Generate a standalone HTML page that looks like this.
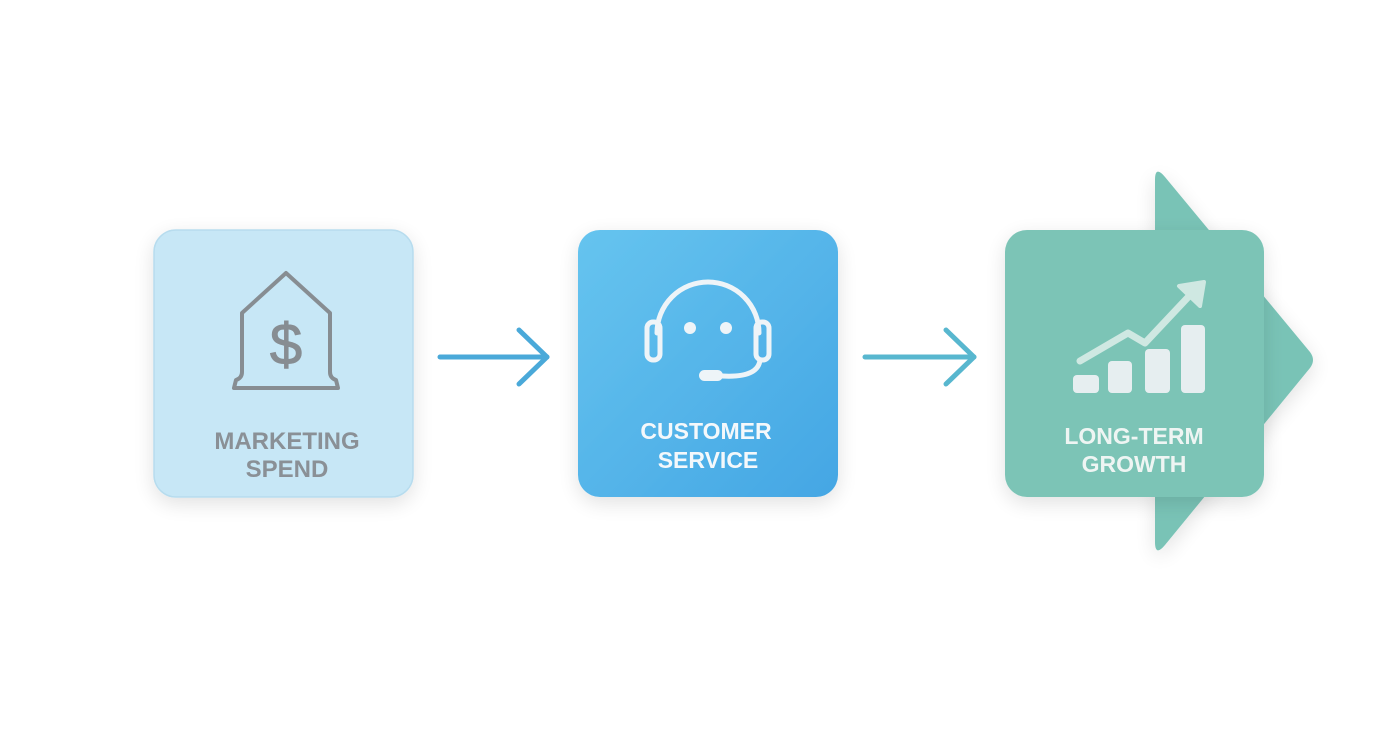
<!DOCTYPE html>
<html><head><meta charset="utf-8"><style>
html,body{margin:0;padding:0;background:#fff;}
svg{display:block}
text{font-family:"Liberation Sans",sans-serif;font-weight:bold;text-anchor:middle}
</style></head><body>
<svg width="1392" height="752" viewBox="0 0 1392 752" xmlns="http://www.w3.org/2000/svg">
<defs>
<linearGradient id="g2" x1="0" y1="0" x2="1" y2="1">
<stop offset="0" stop-color="#66c4ef"/><stop offset="1" stop-color="#44a6e4"/>
</linearGradient>
<filter id="sh" x="-30%" y="-30%" width="160%" height="160%">
<feGaussianBlur in="SourceAlpha" stdDeviation="10"/><feOffset dy="6"/>
<feComponentTransfer><feFuncA type="linear" slope="0.12"/></feComponentTransfer>
<feMerge><feMergeNode/><feMergeNode in="SourceGraphic"/></feMerge>
</filter>
</defs>
<rect x="154" y="230" width="259" height="267" rx="22" fill="#c7e7f6" stroke="#b7dcee" stroke-width="1.5" filter="url(#sh)"/>
<path d="M286 273 L242 313 L242 372 Q242 378 236 380 L234 388 L338 388 L336 380 Q330 378 330 372 L330 313 Z" fill="none" stroke="#878d92" stroke-width="4" stroke-linejoin="round"/>
<text x="286" y="364" font-size="58" fill="#878d92" stroke="#878d92" stroke-width="1" style="font-weight:normal">$</text>
<text x="287" y="449" font-size="24" fill="#8a9096">MARKETING</text>
<text x="287" y="477" font-size="24" fill="#8a9096">SPEND</text>
<g stroke="#4aa9d9" stroke-width="5" stroke-linecap="round" fill="none" stroke-linejoin="round">
<line x1="440" y1="357" x2="547" y2="357"/><polyline points="519,330 547,357 519,384"/>
</g>
<rect x="578" y="230" width="260" height="267" rx="22" fill="url(#g2)" filter="url(#sh)"/>
<g stroke="#eef4f8" stroke-width="5" fill="none" stroke-linecap="round">
<path d="M657 333 A51 51 0 0 1 759 333"/>
<rect x="647" y="322" width="13" height="38" rx="6"/>
<rect x="756" y="322" width="13" height="38" rx="6"/>
<path d="M760 360 Q758 378 722 376"/>
</g>
<rect x="699" y="370" width="24" height="11" rx="5.5" fill="#eef4f8"/>
<circle cx="690" cy="328" r="6" fill="#eef4f8"/><circle cx="726" cy="328" r="6" fill="#eef4f8"/>
<text x="706" y="439" font-size="23" fill="#f4f8fb">CUSTOMER</text>
<text x="708" y="468" font-size="23" fill="#f4f8fb">SERVICE</text>
<g stroke="#58b7cf" stroke-width="5" stroke-linecap="round" fill="none" stroke-linejoin="round">
<line x1="865" y1="357" x2="974" y2="357"/><polyline points="946,330 974,357 946,384"/>
</g>
<path d="M1155 180 Q1155 165 1165 177 L1310 352 Q1316 360 1310 368 L1165 545 Q1155 557 1155 542 Z" fill="#79c3b6" filter="url(#sh)"/>
<rect x="1005" y="230" width="259" height="267" rx="22" fill="#7cc4b6" filter="url(#sh)"/>
<g fill="#e6eef0">
<rect x="1073" y="375" width="26" height="18" rx="4"/>
<rect x="1108" y="361" width="24" height="32" rx="4"/>
<rect x="1145" y="349" width="25" height="44" rx="4"/>
<rect x="1181" y="325" width="24" height="68" rx="4"/>
</g>
<polyline points="1080,361 1128,333 1145,343 1192,293" fill="none" stroke="#cfe8e2" stroke-width="7" stroke-linecap="round" stroke-linejoin="round"/>
<path d="M1179 286 L1204 282 L1200 306 Z" fill="#cfe8e2" stroke="#cfe8e2" stroke-width="4" stroke-linejoin="round"/>
<text x="1134" y="444" font-size="23" fill="#eef5f3">LONG-TERM</text>
<text x="1134" y="472" font-size="23" fill="#eef5f3">GROWTH</text>
</svg>
</body></html>
